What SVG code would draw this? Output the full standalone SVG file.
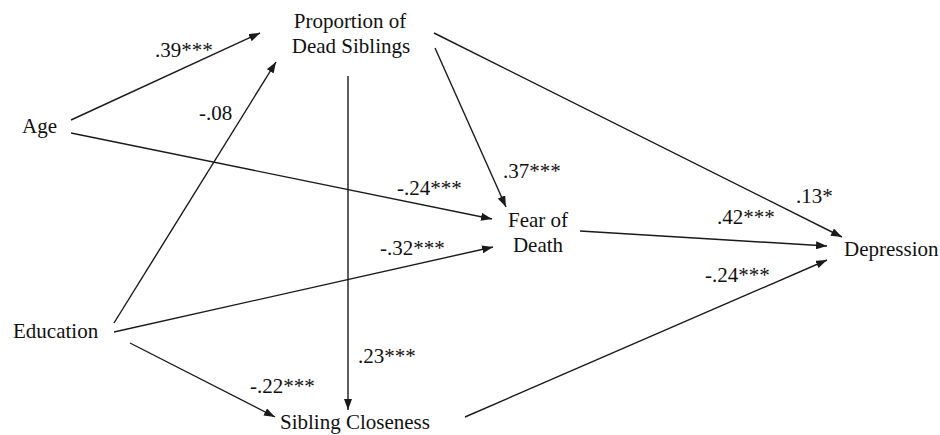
<svg xmlns="http://www.w3.org/2000/svg" width="940" height="435" viewBox="0 0 940 435">
<style>
text{font-family:"Liberation Serif","Times New Roman",serif;font-size:21px;fill:#111}
.c line{stroke:#1a1a1a;stroke-width:1.4;fill:none}
.a line{marker-end:url(#ah)}
</style>
<defs>
<marker id="ah" markerUnits="userSpaceOnUse" markerWidth="11" markerHeight="8" refX="11" refY="4" orient="auto">
<path d="M0,0 L11,4 L0,8 z" fill="#1a1a1a"/>
</marker>
</defs>
<rect width="940" height="435" fill="#fff"/>
<g id="connectors" class="c">
<g class="a">
<line x1="71" y1="120" x2="260" y2="33"/>
<line x1="114" y1="323" x2="276" y2="62"/>
<line x1="71" y1="133" x2="492" y2="219"/>
<line x1="114" y1="332" x2="493" y2="247"/>
<line x1="435" y1="48" x2="506" y2="207"/>
<line x1="434" y1="33" x2="842" y2="237"/>
<line x1="348" y1="76" x2="348" y2="410"/>
<line x1="130" y1="343" x2="275" y2="417"/>
<line x1="580" y1="231" x2="827" y2="246"/>
<line x1="465" y1="417" x2="827" y2="260"/>
</g>
</g>
<g id="labels">
<text x="155" y="57">.39***</text>
<text x="199" y="120">-.08</text>
<text x="397" y="195">-.24***</text>
<text x="503" y="178">.37***</text>
<text x="796" y="203">.13*</text>
<text x="717" y="224">.42***</text>
<text x="380" y="255">-.32***</text>
<text x="705" y="282">-.24***</text>
<text x="358" y="363">.23***</text>
<text x="250" y="393">-.22***</text>
</g>
<g id="node-proportion">
<text x="350" y="28" text-anchor="middle">Proportion of</text>
<text x="351" y="53" text-anchor="middle">Dead Siblings</text>
</g>
<g id="node-age"><text x="22" y="133">Age</text></g>
<g id="node-education"><text x="13" y="338">Education</text></g>
<g id="node-fear">
<text x="538" y="227" text-anchor="middle">Fear of</text>
<text x="538" y="252" text-anchor="middle">Death</text>
</g>
<g id="node-depression"><text x="844" y="256">Depression</text></g>
<g id="node-closeness"><text x="280" y="429">Sibling Closeness</text></g>
</svg>
